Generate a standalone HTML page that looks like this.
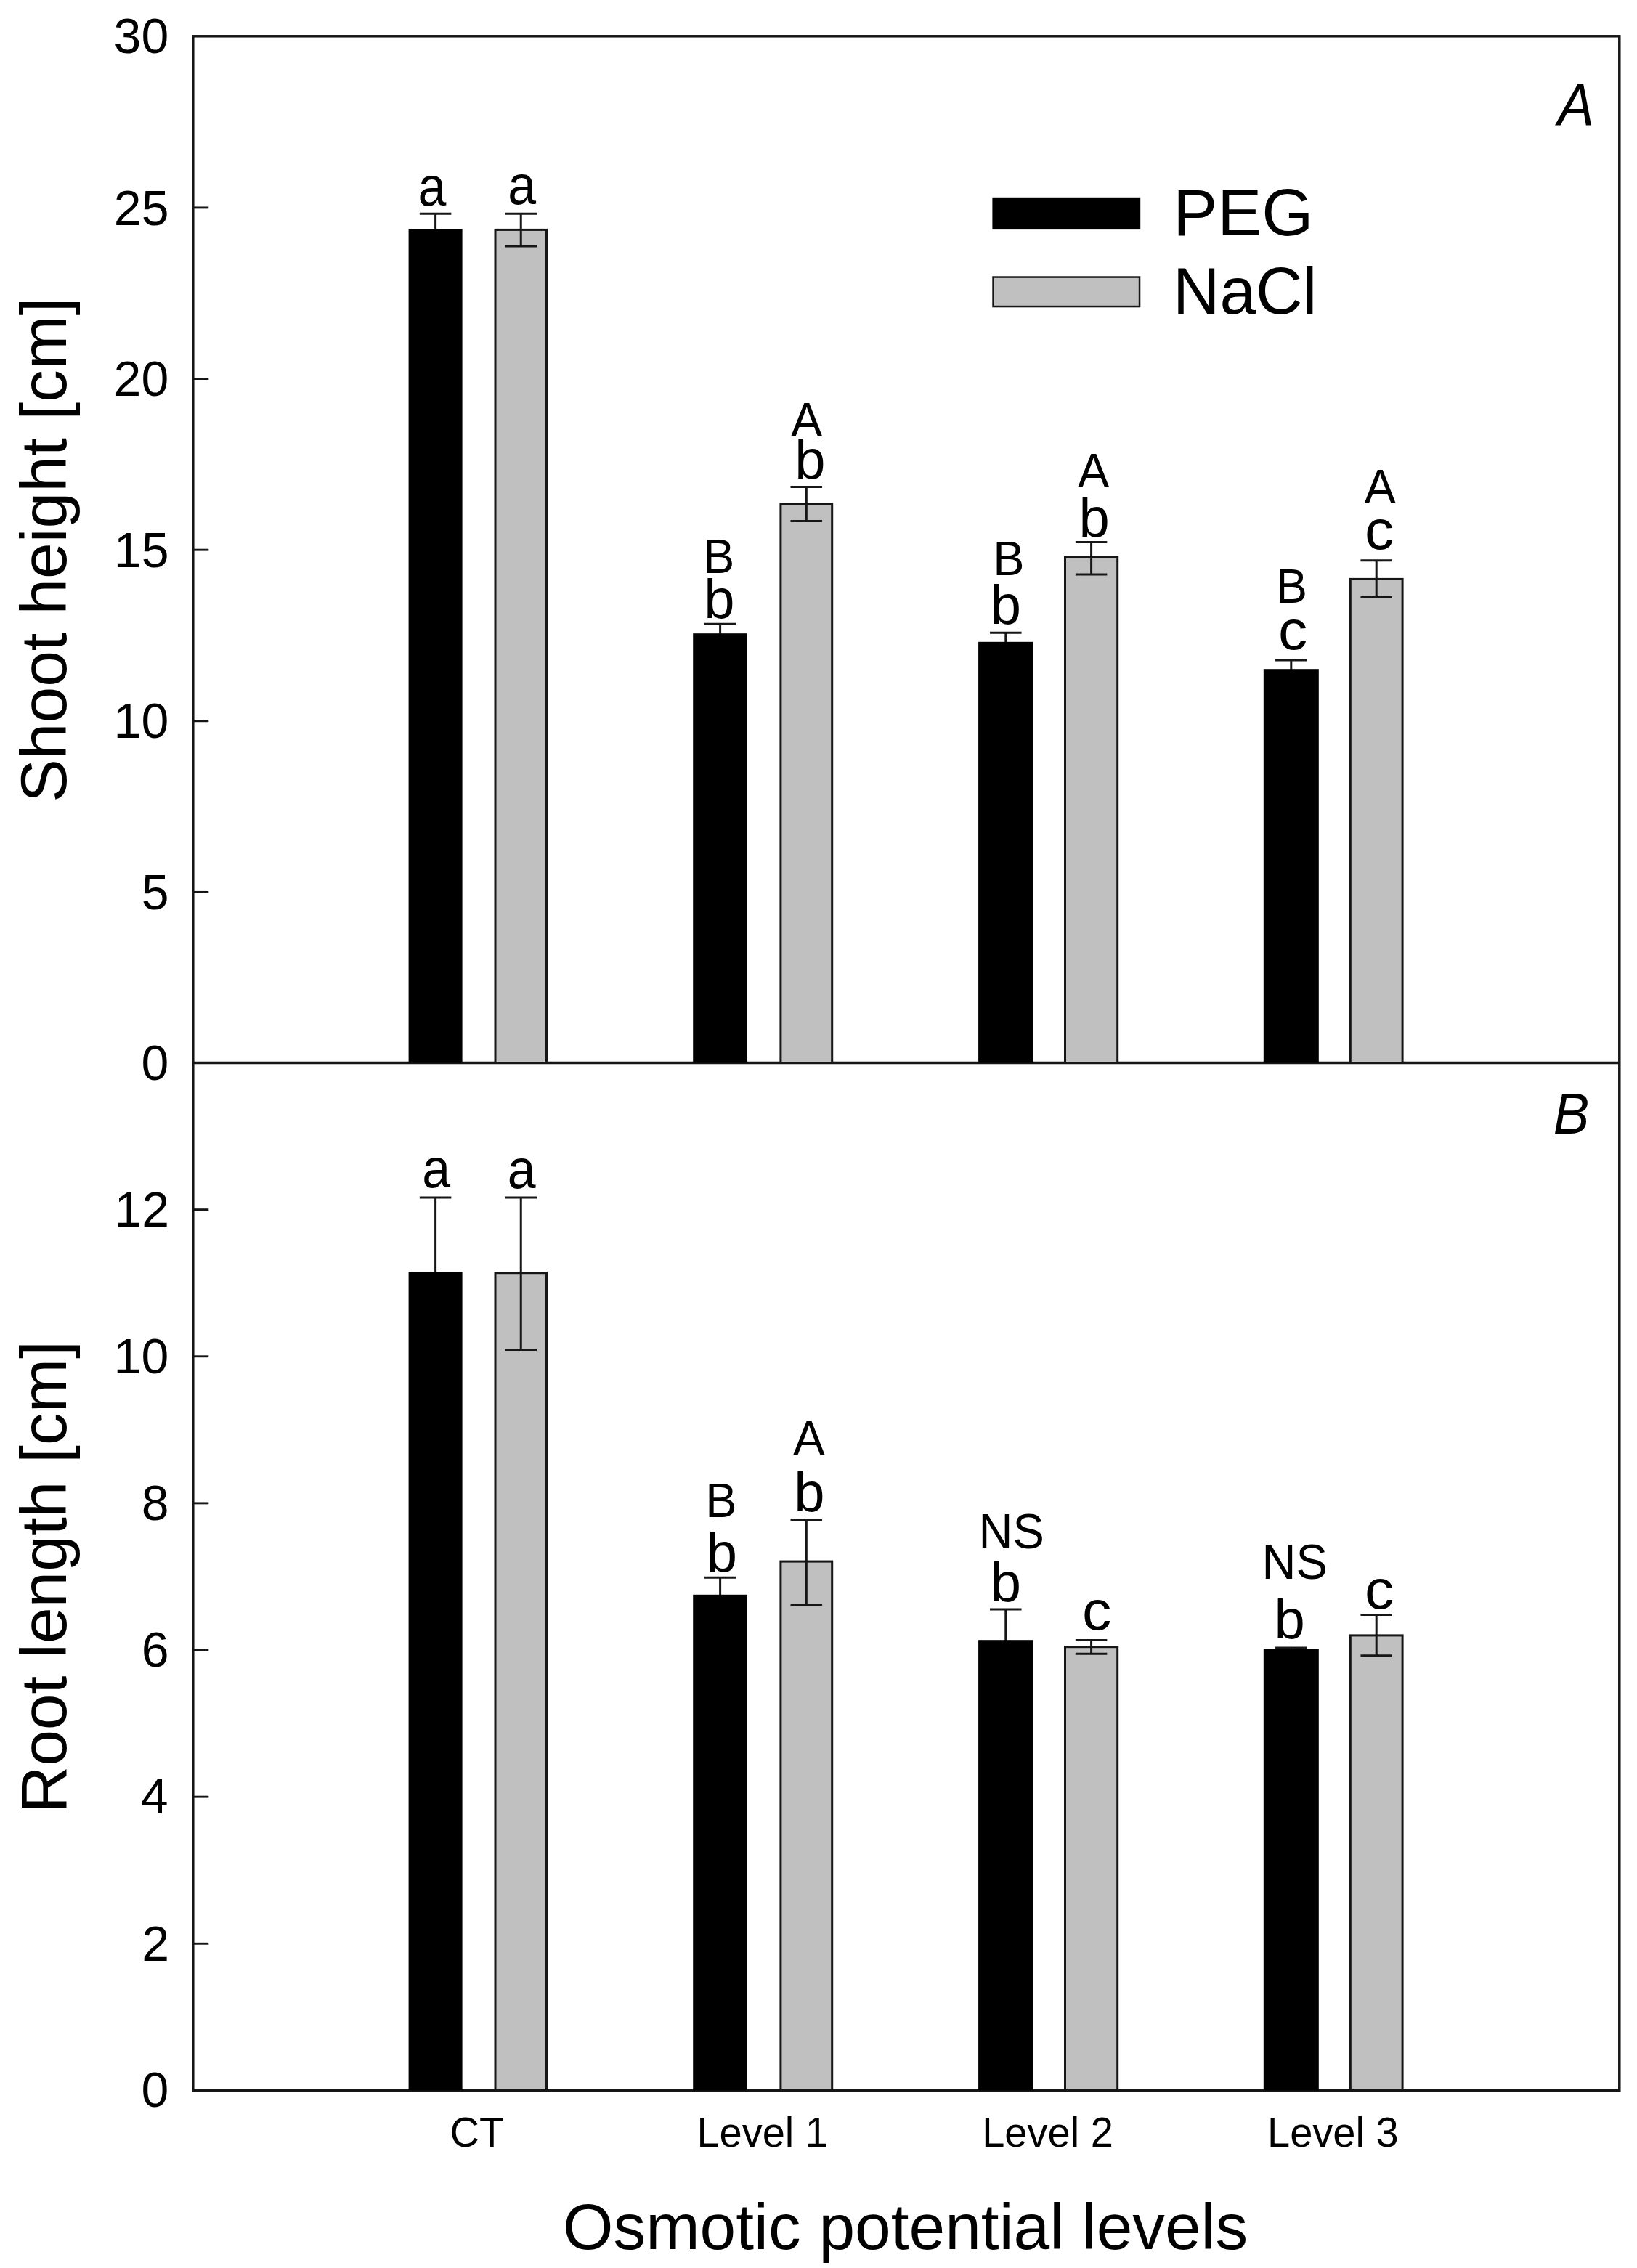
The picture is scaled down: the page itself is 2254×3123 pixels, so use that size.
<!DOCTYPE html>
<html><head><meta charset="utf-8"><title>Shoot height and root length</title>
<style>
html,body{margin:0;padding:0;background:#fff;}
svg{display:block;}
text{font-family:"Liberation Sans",sans-serif;fill:#000;}
</style></head>
<body>
<svg width="2254" height="3123" viewBox="0 0 2254 3123">
<rect x="0" y="0" width="2254" height="3123" fill="#fff"/>
<rect x="265.8" y="49.8" width="1964.0000000000002" height="2828.6" fill="none" stroke="#161616" stroke-width="3.5"/>
<line x1="265.8" y1="1463.5" x2="2229.8" y2="1463.5" stroke="#161616" stroke-width="3.5"/>
<text transform="translate(156.62,73.39)" font-size="68" text-anchor="start">30</text>
<line x1="265.8" y1="285.92" x2="287.3" y2="285.92" stroke="#161616" stroke-width="2.9"/>
<text transform="translate(156.82,309.51)" font-size="68" text-anchor="start">25</text>
<line x1="265.8" y1="521.53" x2="287.3" y2="521.53" stroke="#161616" stroke-width="2.9"/>
<text transform="translate(156.62,545.12)" font-size="68" text-anchor="start">20</text>
<line x1="265.8" y1="757.15" x2="287.3" y2="757.15" stroke="#161616" stroke-width="2.9"/>
<text transform="translate(156.82,780.74)" font-size="68" text-anchor="start">15</text>
<line x1="265.8" y1="992.77" x2="287.3" y2="992.77" stroke="#161616" stroke-width="2.9"/>
<text transform="translate(156.62,1016.36)" font-size="68" text-anchor="start">10</text>
<line x1="265.8" y1="1228.38" x2="287.3" y2="1228.38" stroke="#161616" stroke-width="2.9"/>
<text transform="translate(194.64,1251.97)" font-size="68" text-anchor="start">5</text>
<text transform="translate(194.44,1487.09)" font-size="68" text-anchor="start">0</text>
<line x1="265.8" y1="1665.63" x2="287.3" y2="1665.63" stroke="#161616" stroke-width="2.9"/>
<text transform="translate(157.38,1688.92)" font-size="68" text-anchor="start">12</text>
<line x1="265.8" y1="1867.76" x2="287.3" y2="1867.76" stroke="#161616" stroke-width="2.9"/>
<text transform="translate(156.62,1891.05)" font-size="68" text-anchor="start">10</text>
<line x1="265.8" y1="2069.89" x2="287.3" y2="2069.89" stroke="#161616" stroke-width="2.9"/>
<text transform="translate(194.74,2093.18)" font-size="68" text-anchor="start">8</text>
<line x1="265.8" y1="2272.01" x2="287.3" y2="2272.01" stroke="#161616" stroke-width="2.9"/>
<text transform="translate(194.77,2295.31)" font-size="68" text-anchor="start">6</text>
<line x1="265.8" y1="2474.14" x2="287.3" y2="2474.14" stroke="#161616" stroke-width="2.9"/>
<text transform="translate(193.77,2497.43)" font-size="68" text-anchor="start">4</text>
<line x1="265.8" y1="2676.27" x2="287.3" y2="2676.27" stroke="#161616" stroke-width="2.9"/>
<text transform="translate(195.20,2699.56)" font-size="68" text-anchor="start">2</text>
<text transform="translate(194.44,2900.89)" font-size="68" text-anchor="start">0</text>
<line x1="599.60" y1="294.20" x2="599.60" y2="319.60" stroke="#161616" stroke-width="3.0"/>
<line x1="577.85" y1="294.20" x2="621.35" y2="294.20" stroke="#161616" stroke-width="3.0"/>
<rect x="562.60" y="315.30" width="74.00" height="1148.20" fill="#000"/>
<line x1="991.60" y1="859.20" x2="991.60" y2="876.50" stroke="#161616" stroke-width="3.0"/>
<line x1="969.85" y1="859.20" x2="1013.35" y2="859.20" stroke="#161616" stroke-width="3.0"/>
<rect x="954.20" y="872.20" width="74.80" height="591.30" fill="#000"/>
<line x1="1384.80" y1="871.20" x2="1384.80" y2="888.10" stroke="#161616" stroke-width="3.0"/>
<line x1="1363.05" y1="871.20" x2="1406.55" y2="871.20" stroke="#161616" stroke-width="3.0"/>
<rect x="1347.10" y="883.80" width="75.40" height="579.70" fill="#000"/>
<line x1="1777.80" y1="909.00" x2="1777.80" y2="925.50" stroke="#161616" stroke-width="3.0"/>
<line x1="1756.05" y1="909.00" x2="1799.55" y2="909.00" stroke="#161616" stroke-width="3.0"/>
<rect x="1739.80" y="921.20" width="76.00" height="542.30" fill="#000"/>
<rect x="682.00" y="316.40" width="70.50" height="1147.10" fill="#c0c0c0" stroke="#161616" stroke-width="3.0"/>
<line x1="717.25" y1="294.20" x2="717.25" y2="339.10" stroke="#161616" stroke-width="3.0"/>
<line x1="695.50" y1="294.20" x2="739.00" y2="294.20" stroke="#161616" stroke-width="3.0"/>
<line x1="695.50" y1="339.10" x2="739.00" y2="339.10" stroke="#161616" stroke-width="3.0"/>
<rect x="1074.90" y="693.90" width="70.80" height="769.60" fill="#c0c0c0" stroke="#161616" stroke-width="3.0"/>
<line x1="1110.30" y1="670.60" x2="1110.30" y2="717.40" stroke="#161616" stroke-width="3.0"/>
<line x1="1088.55" y1="670.60" x2="1132.05" y2="670.60" stroke="#161616" stroke-width="3.0"/>
<line x1="1088.55" y1="717.40" x2="1132.05" y2="717.40" stroke="#161616" stroke-width="3.0"/>
<rect x="1466.50" y="767.40" width="72.20" height="696.10" fill="#c0c0c0" stroke="#161616" stroke-width="3.0"/>
<line x1="1502.60" y1="746.60" x2="1502.60" y2="791.10" stroke="#161616" stroke-width="3.0"/>
<line x1="1480.85" y1="746.60" x2="1524.35" y2="746.60" stroke="#161616" stroke-width="3.0"/>
<line x1="1480.85" y1="791.10" x2="1524.35" y2="791.10" stroke="#161616" stroke-width="3.0"/>
<rect x="1859.30" y="797.40" width="71.80" height="666.10" fill="#c0c0c0" stroke="#161616" stroke-width="3.0"/>
<line x1="1895.20" y1="771.70" x2="1895.20" y2="822.50" stroke="#161616" stroke-width="3.0"/>
<line x1="1873.45" y1="771.70" x2="1916.95" y2="771.70" stroke="#161616" stroke-width="3.0"/>
<line x1="1873.45" y1="822.50" x2="1916.95" y2="822.50" stroke="#161616" stroke-width="3.0"/>
<line x1="599.60" y1="1649.00" x2="599.60" y2="1755.70" stroke="#161616" stroke-width="3.0"/>
<line x1="577.85" y1="1649.00" x2="621.35" y2="1649.00" stroke="#161616" stroke-width="3.0"/>
<rect x="562.60" y="1751.40" width="74.00" height="1127.00" fill="#000"/>
<line x1="991.60" y1="2172.20" x2="991.60" y2="2200.10" stroke="#161616" stroke-width="3.0"/>
<line x1="969.85" y1="2172.20" x2="1013.35" y2="2172.20" stroke="#161616" stroke-width="3.0"/>
<rect x="954.20" y="2195.80" width="74.80" height="682.60" fill="#000"/>
<line x1="1384.80" y1="2216.10" x2="1384.80" y2="2262.50" stroke="#161616" stroke-width="3.0"/>
<line x1="1363.05" y1="2216.10" x2="1406.55" y2="2216.10" stroke="#161616" stroke-width="3.0"/>
<rect x="1347.10" y="2258.20" width="75.40" height="620.20" fill="#000"/>
<line x1="1777.80" y1="2269.00" x2="1777.80" y2="2274.70" stroke="#161616" stroke-width="3.0"/>
<line x1="1756.05" y1="2269.00" x2="1799.55" y2="2269.00" stroke="#161616" stroke-width="3.0"/>
<rect x="1739.80" y="2270.40" width="76.00" height="608.00" fill="#000"/>
<rect x="682.00" y="1752.70" width="70.50" height="1125.70" fill="#c0c0c0" stroke="#161616" stroke-width="3.0"/>
<line x1="717.25" y1="1649.00" x2="717.25" y2="1858.50" stroke="#161616" stroke-width="3.0"/>
<line x1="695.50" y1="1649.00" x2="739.00" y2="1649.00" stroke="#161616" stroke-width="3.0"/>
<line x1="695.50" y1="1858.50" x2="739.00" y2="1858.50" stroke="#161616" stroke-width="3.0"/>
<rect x="1074.90" y="2150.10" width="70.80" height="728.30" fill="#c0c0c0" stroke="#161616" stroke-width="3.0"/>
<line x1="1110.30" y1="2092.50" x2="1110.30" y2="2209.40" stroke="#161616" stroke-width="3.0"/>
<line x1="1088.55" y1="2092.50" x2="1132.05" y2="2092.50" stroke="#161616" stroke-width="3.0"/>
<line x1="1088.55" y1="2209.40" x2="1132.05" y2="2209.40" stroke="#161616" stroke-width="3.0"/>
<rect x="1466.50" y="2267.70" width="72.20" height="610.70" fill="#c0c0c0" stroke="#161616" stroke-width="3.0"/>
<line x1="1502.60" y1="2258.50" x2="1502.60" y2="2277.20" stroke="#161616" stroke-width="3.0"/>
<line x1="1480.85" y1="2258.50" x2="1524.35" y2="2258.50" stroke="#161616" stroke-width="3.0"/>
<line x1="1480.85" y1="2277.20" x2="1524.35" y2="2277.20" stroke="#161616" stroke-width="3.0"/>
<rect x="1859.30" y="2251.90" width="71.80" height="626.50" fill="#c0c0c0" stroke="#161616" stroke-width="3.0"/>
<line x1="1895.20" y1="2223.50" x2="1895.20" y2="2279.70" stroke="#161616" stroke-width="3.0"/>
<line x1="1873.45" y1="2223.50" x2="1916.95" y2="2223.50" stroke="#161616" stroke-width="3.0"/>
<line x1="1873.45" y1="2279.70" x2="1916.95" y2="2279.70" stroke="#161616" stroke-width="3.0"/>
<text transform="translate(575.42,283.36) scale(0.92,1.0)" font-size="76" text-anchor="start">a</text>
<text transform="translate(699.27,280.66) scale(0.92,1.0)" font-size="76" text-anchor="start">a</text>
<text transform="translate(968.07,788.50) scale(1.0,1.02)" font-size="65" text-anchor="start">B</text>
<text transform="translate(969.16,850.56)" font-size="76" text-anchor="start">b</text>
<text transform="translate(1089.07,600.60) scale(1.0,1.02)" font-size="65" text-anchor="start">A</text>
<text transform="translate(1094.21,659.46)" font-size="76" text-anchor="start">b</text>
<text transform="translate(1367.17,792.40) scale(1.0,1.02)" font-size="65" text-anchor="start">B</text>
<text transform="translate(1363.66,859.46)" font-size="76" text-anchor="start">b</text>
<text transform="translate(1484.02,670.60) scale(1.0,1.02)" font-size="65" text-anchor="start">A</text>
<text transform="translate(1485.56,739.46)" font-size="76" text-anchor="start">b</text>
<text transform="translate(1756.72,830.40) scale(1.0,1.02)" font-size="65" text-anchor="start">B</text>
<text transform="translate(1759.91,894.16) scale(1.06,1.0)" font-size="76" text-anchor="start">c</text>
<text transform="translate(1878.57,693.30) scale(1.0,1.02)" font-size="65" text-anchor="start">A</text>
<text transform="translate(1879.01,755.76) scale(1.06,1.0)" font-size="76" text-anchor="start">c</text>
<text transform="translate(581.32,1634.56) scale(0.92,1.0)" font-size="76" text-anchor="start">a</text>
<text transform="translate(698.82,1636.36) scale(0.92,1.0)" font-size="76" text-anchor="start">a</text>
<text transform="translate(971.27,2089.30) scale(1.0,1.02)" font-size="65" text-anchor="start">B</text>
<text transform="translate(972.86,2163.76)" font-size="76" text-anchor="start">b</text>
<text transform="translate(1092.27,2003.20) scale(1.0,1.02)" font-size="65" text-anchor="start">A</text>
<text transform="translate(1093.31,2081.26)" font-size="76" text-anchor="start">b</text>
<text transform="translate(1347.58,2131.75) scale(1.0,1.05)" font-size="65" text-anchor="start">NS</text>
<text transform="translate(1363.66,2204.96)" font-size="76" text-anchor="start">b</text>
<text transform="translate(1489.91,2244.36) scale(1.06,1.0)" font-size="76" text-anchor="start">c</text>
<text transform="translate(1737.58,2173.75) scale(1.0,1.05)" font-size="65" text-anchor="start">NS</text>
<text transform="translate(1754.56,2256.06)" font-size="76" text-anchor="start">b</text>
<text transform="translate(1879.01,2214.86) scale(1.06,1.0)" font-size="76" text-anchor="start">c</text>
<text transform="translate(2144.86,172.10) scale(0.93,1.0)" font-size="81" text-anchor="start" font-style="italic">A</text>
<text transform="translate(2138.67,1561.00) scale(0.93,1.0)" font-size="80" text-anchor="start" font-style="italic">B</text>
<rect x="1366.4" y="271.8" width="203.8" height="44.3" fill="#000"/>
<rect x="1367.55" y="381.55" width="201.5" height="40.5" fill="#c0c0c0" stroke="#161616" stroke-width="2.5"/>
<text transform="translate(1615.29,323.70)" font-size="91.5" text-anchor="start">PEG</text>
<text transform="translate(1615.08,431.70) scale(0.975,1.0)" font-size="91.5" text-anchor="start">NaCl</text>
<text transform="translate(656.90,2956.30) scale(1.0,1.03)" font-size="56" text-anchor="middle">CT</text>
<text transform="translate(1049.70,2956.30) scale(1.0,1.03)" font-size="56" text-anchor="middle">Level 1</text>
<text transform="translate(1442.50,2956.30) scale(1.0,1.03)" font-size="56" text-anchor="middle">Level 2</text>
<text transform="translate(1835.30,2956.30) scale(1.0,1.03)" font-size="56" text-anchor="middle">Level 3</text>
<text transform="translate(1246.60,3097.30)" font-size="89.3" text-anchor="middle">Osmotic potential levels</text>
<text transform="translate(90.50,757.25) rotate(-90)" font-size="89.3" text-anchor="middle">Shoot height [cm]</text>
<text transform="translate(90.50,2171.25) rotate(-90)" font-size="89.3" text-anchor="middle">Root length [cm]</text>
</svg>
</body></html>
